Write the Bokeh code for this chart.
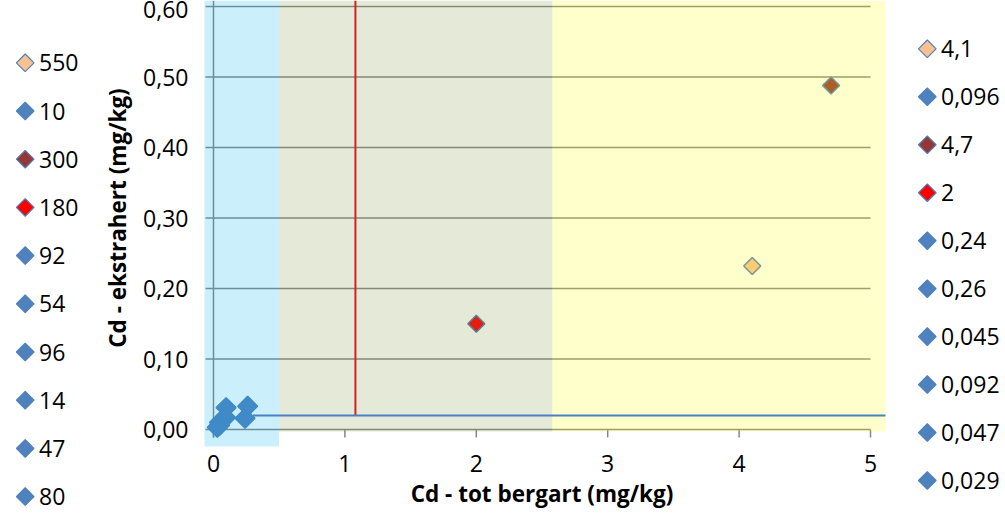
import math
from bokeh.plotting import figure
from bokeh.models import Range1d, FixedTicker, CustomJSTickFormatter
from bokeh.core.properties import value
from bokeh.embed import file_html
from bokeh.resources import INLINE

# ---------------- data ----------------
cd_tot = [4.1, 0.096, 4.7, 2.0, 0.24, 0.26, 0.045, 0.092, 0.047, 0.029]
cd_ext = [0.232, 0.031, 0.488, 0.150, 0.016, 0.033, 0.010, 0.017, 0.006, 0.003]
names_left = ["550", "10", "300", "180", "92", "54", "96", "14", "47", "80"]
names_right = ["4,1", "0,096", "4,7", "2", "0,24", "0,26", "0,045", "0,092", "0,047", "0,029"]
x_ticks = [0, 1, 2, 3, 4, 5]
y_ticks = [0.0, 0.1, 0.2, 0.3, 0.4, 0.5, 0.6]
zone_x0 = [-0.0685, 0.5, 2.578]
zone_x1 = [0.5, 2.578, 5.114]
zone_y0 = [-0.0241, -0.003, -0.003]
zone_y1 = [0.6085, 0.6085, 0.6085]
limit_x = [1.08]      # red vertical limit
limit_y = [0.02]      # blue horizontal limit

# ---------------- styles / layout ----------------
fills = ["#fac090", "#4f81bd", "#953735", "#ff0000", "#4f81bd",
         "#4f81bd", "#4f81bd", "#4f81bd", "#4f81bd", "#4f81bd"]
outlines = ["#4f81bd"] * 10
sizes = [12, 14, 12, 12, 14, 14, 14, 14, 14, 14]
zone_colors = ["#00b0f0", "#77933c", "#ffff00"]
FONT = "Open Sans"
W, H = 1005, 518
X_ORIGIN, X_SCALE = 213.0, 131.4     # pixel of x=0, pixels per unit
Y_ORIGIN, Y_SCALE = 429.0, 705.0     # pixel of y=0, pixels per unit
X1 = 5.114
Y1 = 0.6085

p = figure(width=W, height=H,
           x_range=Range1d(-X_ORIGIN / X_SCALE, (W - X_ORIGIN) / X_SCALE),
           y_range=Range1d(-(H - Y_ORIGIN) / Y_SCALE, Y_ORIGIN / Y_SCALE),
           output_backend="svg", toolbar_location=None,
           min_border_left=0, min_border_right=0, min_border_top=0, min_border_bottom=0)
p.extra_x_ranges = {"px": Range1d(0, W)}
p.extra_y_ranges = {"px": Range1d(H, 0)}
p.outline_line_color = None
p.xgrid.visible = False
p.ygrid.visible = False
p.background_fill_color = "white"
p.border_fill_color = "white"

# axes placed at the origin (Excel style)
p.xaxis.ticker = FixedTicker(ticks=x_ticks)
p.yaxis.ticker = FixedTicker(ticks=y_ticks)
p.yaxis.formatter = CustomJSTickFormatter(code="return tick.toFixed(2).replace('.', ',');")
p.xaxis.fixed_location = 0
p.yaxis.fixed_location = 0
p.xaxis.bounds = (0, 5)
p.yaxis.bounds = (0, 0.6)
for ax in (p.xaxis, p.yaxis):
    ax.axis_line_color = None
    ax.major_tick_line_color = None
    ax.minor_tick_line_color = None
    ax.major_tick_out = 0
    ax.major_tick_in = 0
    ax.major_label_text_font = FONT
    ax.major_label_text_font_size = "23px"
    ax.major_label_text_color = "black"
    ax.axis_label_text_font = FONT
    ax.axis_label_text_font_size = "22.5px"
    ax.axis_label_text_font_style = "bold"
    ax.axis_label_text_color = "black"
p.xaxis.major_label_standoff = 25
p.yaxis.major_label_standoff = 25
p.xaxis.axis_label = "Cd - tot bergart (mg/kg)"
p.yaxis.axis_label = "Cd - ekstrahert (mg/kg)"
p.xaxis.axis_label_standoff = 3
p.yaxis.axis_label_standoff = 7

GRID = "#868686"
p.segment(x0=[-0.061] * len(y_ticks), x1=[5.0] * len(y_ticks), y0=y_ticks, y1=y_ticks,
          line_color=GRID, line_width=1.5)
p.segment(x0=[0], x1=[0], y0=[-0.0113], y1=[Y1], line_color=GRID, line_width=1.5)
p.segment(x0=x_ticks, x1=x_ticks, y0=[0] * len(x_ticks), y1=[-0.0113] * len(x_ticks),
          line_color=GRID, line_width=1.5)

for i in range(len(cd_tot)):
    p.scatter(x=[cd_tot[i]], y=[cd_ext[i]], marker="square", angle=math.pi / 4,
              size=sizes[i], fill_color=fills[i], line_color=outlines[i], line_width=1.5)

p.quad(left=zone_x0, right=zone_x1, bottom=zone_y0, top=zone_y1,
       fill_color=zone_colors, fill_alpha=0.2, line_color=None)

p.segment(x0=limit_x, x1=limit_x, y0=limit_y, y1=[Y1], line_color="#d42020", line_width=2)
p.segment(x0=[0.3], x1=[X1], y0=limit_y, y1=limit_y, line_color="#4a7fc4", line_width=2)

# ---------------- legends (pixel space) ----------------
def legend(names, first, pitch, gx, tx):
    n = len(names)
    ys = [first + k * pitch for k in range(n)]
    p.scatter(x=[gx] * n, y=ys, x_range_name="px", y_range_name="px",
              marker="square", angle=math.pi / 4, size=12.5,
              fill_color=fills[:n], line_color=outlines[:n], line_width=1.2)
    p.text(x=[tx] * n, y=ys, x_range_name="px", y_range_name="px", text=names,
           text_font=value(FONT), text_font_size="23px", text_color="black",
           text_align="left", text_baseline="middle")

legend(names_left, 62.3, 48.2, 24.7, 38.5)
legend(names_right, 48.3, 47.97, 926.8, 940.5)

open("out.html", "w").write(file_html(p, INLINE))
